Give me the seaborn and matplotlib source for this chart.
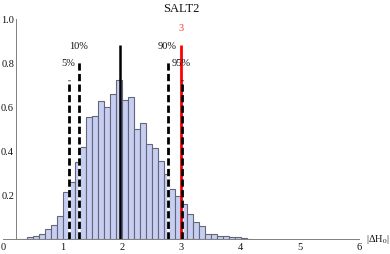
import numpy as np
import pandas as pd
import matplotlib
matplotlib.use("Agg")
import matplotlib.pyplot as plt
import seaborn as sns
from matplotlib.ticker import MultipleLocator

# ---- data ----
bin_left = [0.2, 0.3, 0.4, 0.5, 0.6, 0.7, 0.8, 0.9,
            1.0, 1.1, 1.2, 1.3, 1.4, 1.5, 1.6, 1.7, 1.8, 1.9,
            2.0, 2.1, 2.2, 2.3, 2.4, 2.5, 2.6, 2.7, 2.8, 2.9,
            3.0, 3.1, 3.2, 3.3, 3.4, 3.5, 3.6, 3.7, 3.8, 3.9,
            4.0, 4.1]
heights = [0.002, 0.003, 0.009, 0.015, 0.022, 0.045, 0.065, 0.107,
           0.215, 0.26, 0.35, 0.42, 0.557, 0.56, 0.627, 0.60, 0.662, 0.725,
           0.632, 0.645, 0.50, 0.53, 0.432, 0.414, 0.356, 0.295, 0.23, 0.195,
           0.16, 0.115, 0.08, 0.06, 0.026, 0.026, 0.014, 0.014, 0.012, 0.01,
           0.006, 0.003]
bin_width = 0.1

pct_labels = ["5%", "10%", "90%", "95%"]
pct_x = [1.11, 1.28, 2.78, 3.01]
pct_top = [0.725, 0.805, 0.805, 0.725]
pct_label_pos = [(1.10, 0.797), (1.27, 0.876), (2.76, 0.876), (2.99, 0.797)]
median_x, median_top = 1.97, 0.882
obs_x, obs_top, obs_label = 3.0, 0.882, "3"

title = "SALT2"
xlabel = "|ΔH$_0$|"

# ---- plot ----
sns.set_style("white")
plt.rcParams["font.family"] = ["Liberation Serif", "DejaVu Serif"]
plt.rcParams["mathtext.fontset"] = "stix"

fig = plt.figure(figsize=(3.9, 2.54), dpi=100)
ax = fig.add_axes([3.4 / 390, 1 - 239.3 / 254, (359.2 - 3.4) / 390, 220 / 254])

centers = [b + bin_width / 2 for b in bin_left]
edges = [round(b, 2) for b in bin_left] + [round(bin_left[-1] + bin_width, 2)]
df = pd.DataFrame({"x": centers, "w": heights})
sns.histplot(data=df, x="x", weights="w", bins=edges, stat="count",
             color="#c6cef2", edgecolor="#66667a", linewidth=0.8, alpha=1,
             ax=ax)

for x, top in zip(pct_x, pct_top):
    ax.plot([x, x], [0, top], color="white", lw=2.0, solid_capstyle="butt", zorder=3)
ax.plot([obs_x, obs_x], [0, obs_top], color="#ff0000", lw=2.0, solid_capstyle="butt", zorder=3)
for x, top in zip(pct_x, pct_top):
    ax.plot([x, x], [0, top], color="black", lw=2.0, dashes=(2.6, 1.2),
            dash_capstyle="butt", zorder=4)
ax.plot([median_x, median_x], [0, median_top], color="black", lw=1.8,
        solid_capstyle="butt", zorder=4)

for lab, (lx, ly) in zip(pct_labels, pct_label_pos):
    ax.text(lx, ly, lab, ha="center", va="center", fontsize=7.5, color="#111111", zorder=5)
ax.text(obs_x, 0.956, obs_label, ha="center", va="center", fontsize=7.5, color="#ff3333")

ax.set_xlim(0, 6)
ax.set_ylim(0, 1.0)
ax.set_xlabel("")
ax.set_ylabel("")
ax.set_title("")
fig.text(0.5 * (3.4 + 359.2) / 390 + 0.0, 1 - 9.5 / 254, title, ha="center", va="center",
         fontsize=9, color="#111111")

for s in ["top", "right"]:
    ax.spines[s].set_visible(False)
ax.spines["left"].set_position(("data", 0.207))
for s in ["left", "bottom"]:
    ax.spines[s].set_color("#808080")
    ax.spines[s].set_linewidth(0.7)

ax.xaxis.set_major_locator(MultipleLocator(1))
ax.xaxis.set_minor_locator(MultipleLocator(0.2))
ax.yaxis.set_minor_locator(MultipleLocator(0.05))
ax.set_yticks([0.2, 0.4, 0.6, 0.8, 1.0])
ax.set_yticklabels(["0.2", "0.4", "0.6", "0.8", "1.0"])
ax.tick_params(axis="both", which="major", direction="in", length=3.2, width=0.6,
               color="#808080", labelsize=7.5, labelcolor="#111111")
ax.tick_params(axis="both", which="minor", direction="in", length=2.0, width=0.5,
               color="#808080")
ax.tick_params(axis="x", which="major", pad=3)
ax.tick_params(axis="y", which="major", pad=1.2)

fig.text(378 / 390, 1 - 240 / 254, xlabel, ha="center", va="center",
         fontsize=7.5, color="#111111")

fig.savefig("out.png", dpi=100)
